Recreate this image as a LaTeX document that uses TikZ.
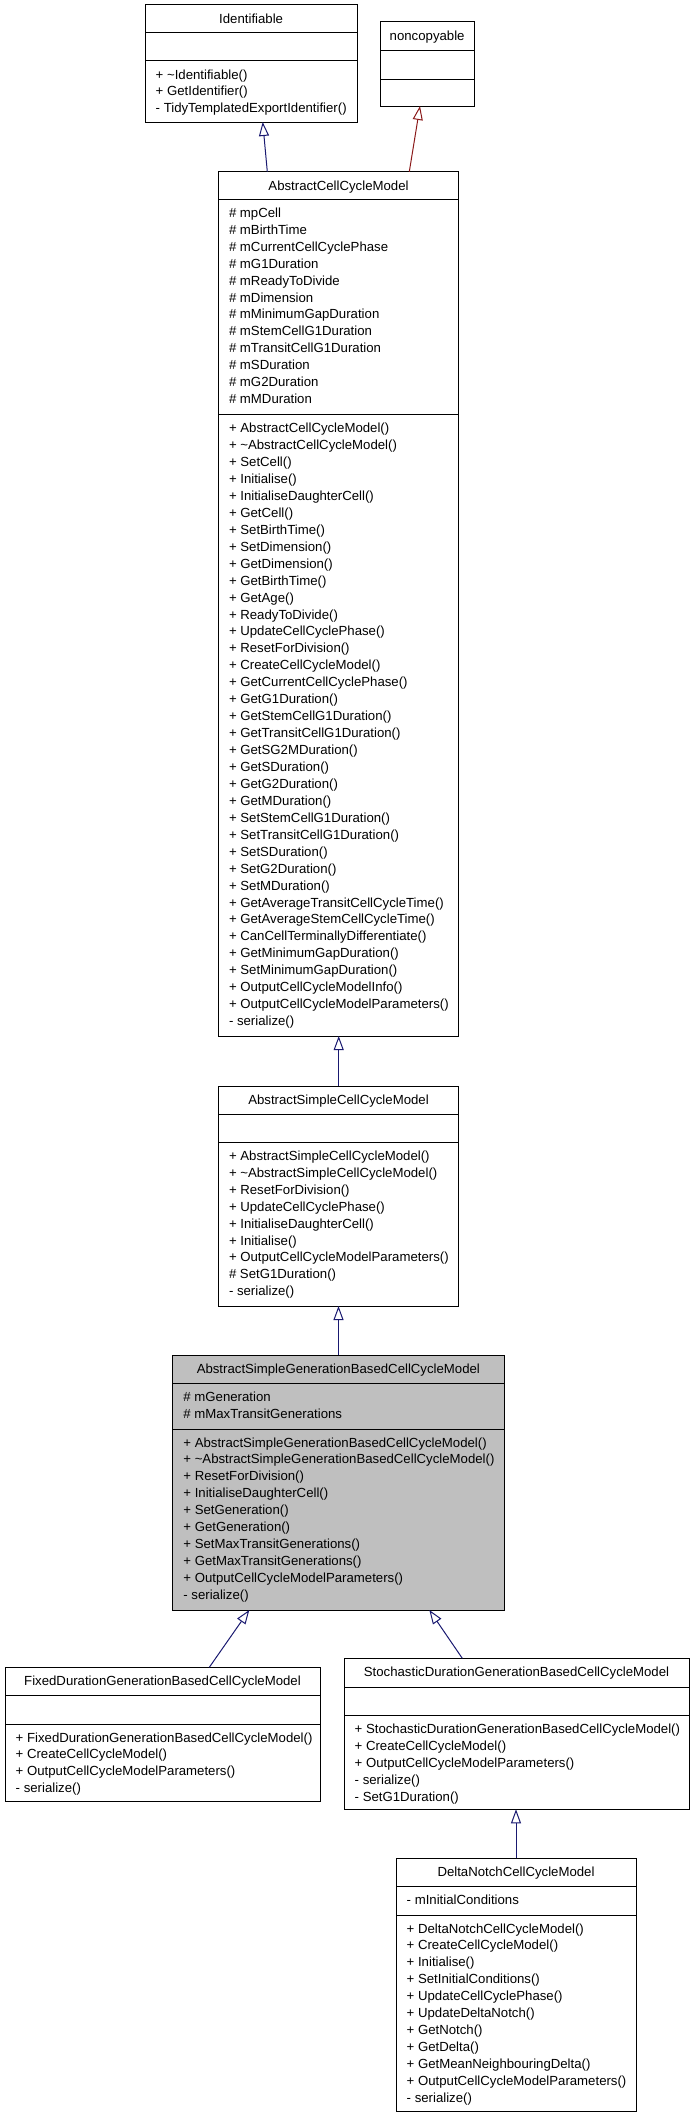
\documentclass[tikz,border=0pt]{standalone}
\usepackage{fontspec}
\setmainfont{Liberation Sans}
\usetikzlibrary{arrows.meta}
\definecolor{inhblue}{HTML}{191970}
\definecolor{inhred}{HTML}{8B1A1A}
\definecolor{focusgray}{HTML}{BFBFBF}
\tikzset{
  classbox/.style={draw=black, line width=1pt, inner sep=0pt, outer sep=0pt, anchor=north west},
  rowtext/.style={font=\fontsize{13.2pt}{16pt}\selectfont, inner sep=0pt, anchor=base west},
  titletext/.style={font=\fontsize{13.2pt}{16pt}\selectfont, inner sep=0pt, anchor=base},
  divider/.style={draw=black, line width=1pt},
  inherit/.style={draw=inhblue, line width=1pt, -{Triangle[open, length=14pt, width=10pt]}},
  inheritred/.style={draw=inhred, line width=1pt, -{Triangle[open, length=14pt, width=10pt]}}
}
% name, L, T, W, H, D1, D2, fill, title
\newcommand{\umlbox}[9]{%
  \node[classbox, fill=#8, minimum width=#4pt, minimum height=#5pt] (#1) at (#2,#3) {};
  \draw[divider] ([yshift=-#6pt]#1.north west) -- ([yshift=-#6pt]#1.north east);
  \draw[divider] ([yshift=-#7pt]#1.north west) -- ([yshift=-#7pt]#1.north east);
  \node[titletext] at ([yshift=-18.6pt]#1.north) {#9};
}
% name, divider offset, list
\newcommand{\umlrows}[3]{%
  \foreach \rowtxt [count=\ri from 0] in {#3}
    \node[rowtext] at ([xshift=10.5pt, yshift={-(#2+18+\ri*16.94)*1pt}]#1.north west) {\rowtxt};
}
\begin{document}
\begin{tikzpicture}[x=1pt, y=-1pt]
\useasboundingbox (0,0) rectangle (693,2117);

% Identifiable
\umlbox{idf}{145}{5}{212.3}{117}{28}{56}{white}{Identifiable}
\umlrows{idf}{56}{+ \textasciitilde{}Identifiable(), + GetIdentifier(), - TidyTemplatedExportIdentifier()}

% noncopyable
\umlbox{nc}{380}{22}{94.3}{84}{29}{57}{white}{noncopyable}

% AbstractCellCycleModel
\umlbox{acc}{218.3}{171.7}{240.4}{864.3}{27.6}{243}{white}{AbstractCellCycleModel}
\umlrows{acc}{27.6}{\# mpCell, \# mBirthTime, \# mCurrentCellCyclePhase, \# mG1Duration, \# mReadyToDivide, \# mDimension, \# mMinimumGapDuration, \# mStemCellG1Duration, \# mTransitCellG1Duration, \# mSDuration, \# mG2Duration, \# mMDuration}
\umlrows{acc}{243}{+ AbstractCellCycleModel(), + \textasciitilde{}AbstractCellCycleModel(), + SetCell(), + Initialise(), + InitialiseDaughterCell(), + GetCell(), + SetBirthTime(), + SetDimension(), + GetDimension(), + GetBirthTime(), + GetAge(), + ReadyToDivide(), + UpdateCellCyclePhase(), + ResetForDivision(), + CreateCellCycleModel(), + GetCurrentCellCyclePhase(), + GetG1Duration(), + GetStemCellG1Duration(), + GetTransitCellG1Duration(), + GetSG2MDuration(), + GetSDuration(), + GetG2Duration(), + GetMDuration(), + SetStemCellG1Duration(), + SetTransitCellG1Duration(), + SetSDuration(), + SetG2Duration(), + SetMDuration(), + GetAverageTransitCellCycleTime(), + GetAverageStemCellCycleTime(), + CanCellTerminallyDifferentiate(), + GetMinimumGapDuration(), + SetMinimumGapDuration(), + OutputCellCycleModelInfo(), + OutputCellCycleModelParameters(), - serialize()}

% AbstractSimpleCellCycleModel
\umlbox{ascc}{218.3}{1086}{240.4}{220}{28.3}{56.3}{white}{AbstractSimpleCellCycleModel}
\umlrows{ascc}{56.3}{+ AbstractSimpleCellCycleModel(), + \textasciitilde{}AbstractSimpleCellCycleModel(), + ResetForDivision(), + UpdateCellCyclePhase(), + InitialiseDaughterCell(), + Initialise(), + OutputCellCycleModelParameters(), \# SetG1Duration(), - serialize()}

% AbstractSimpleGenerationBasedCellCycleModel
\umlbox{asgb}{172.7}{1355.3}{331.3}{254.7}{28}{73.7}{focusgray}{AbstractSimpleGenerationBasedCellCycleModel}
\umlrows{asgb}{28}{\# mGeneration, \# mMaxTransitGenerations}
\umlrows{asgb}{73.7}{+ AbstractSimpleGenerationBasedCellCycleModel(), + \textasciitilde{}AbstractSimpleGenerationBasedCellCycleModel(), + ResetForDivision(), + InitialiseDaughterCell(), + SetGeneration(), + GetGeneration(), + SetMaxTransitGenerations(), + GetMaxTransitGenerations(), + OutputCellCycleModelParameters(), - serialize()}

% FixedDurationGenerationBasedCellCycleModel
\umlbox{fixed}{5}{1667.3}{315}{134.4}{28.4}{56.7}{white}{FixedDurationGenerationBasedCellCycleModel}
\umlrows{fixed}{56.7}{+ FixedDurationGenerationBasedCellCycleModel(), + CreateCellCycleModel(), + OutputCellCycleModelParameters(), - serialize()}

% StochasticDurationGenerationBasedCellCycleModel
\umlbox{stoch}{344}{1658.3}{345}{151}{29}{57.4}{white}{StochasticDurationGenerationBasedCellCycleModel}
\umlrows{stoch}{57.4}{+ StochasticDurationGenerationBasedCellCycleModel(), + CreateCellCycleModel(), + OutputCellCycleModelParameters(), - serialize(), - SetG1Duration()}

% DeltaNotchCellCycleModel
\umlbox{dn}{396}{1858.3}{240}{253.4}{28.4}{56.7}{white}{DeltaNotchCellCycleModel}
\umlrows{dn}{28.4}{- mInitialConditions}
\umlrows{dn}{56.7}{+ DeltaNotchCellCycleModel(), + CreateCellCycleModel(), + Initialise(), + SetInitialConditions(), + UpdateCellCyclePhase(), + UpdateDeltaNotch(), + GetNotch(), + GetDelta(), + GetMeanNeighbouringDelta(), + OutputCellCycleModelParameters(), - serialize()}

% inheritance connectors
\draw[inherit] ([xshift=49pt]acc.north west) -- ([xshift=117.7pt]idf.south west);
\draw[inheritred] ([xshift=191pt]acc.north west) -- ([xshift=40pt]nc.south west);
\draw[inherit] ([xshift=120.4pt]ascc.north west) -- ([xshift=120.4pt]acc.south west);
\draw[inherit] ([xshift=165.8pt]asgb.north west) -- ([xshift=120.2pt]ascc.south west);
\draw[inherit] ([xshift=204.3pt]fixed.north west) -- ([xshift=76.6pt]asgb.south west);
\draw[inherit] ([xshift=118.3pt]stoch.north west) -- ([xshift=256.6pt]asgb.south west);
\draw[inherit] ([xshift=120pt]dn.north west) -- ([xshift=172pt]stoch.south west);
\end{tikzpicture}
\end{document}
